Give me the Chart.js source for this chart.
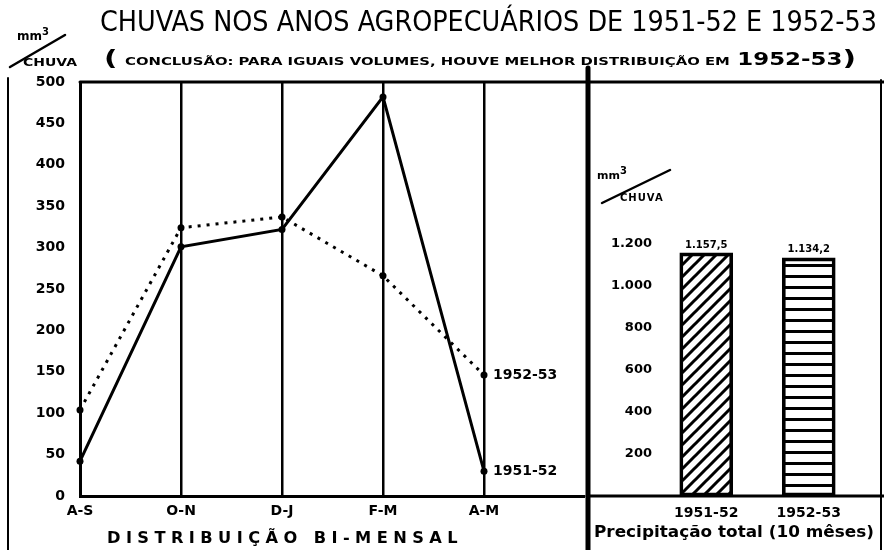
<!DOCTYPE html>
<html>
<head>
<meta charset="utf-8">
<script src="https://cdn.jsdelivr.net/npm/chart.js@4.4.0/dist/chart.umd.min.js"></script>
<style>
  html, body { margin: 0; padding: 0; background: #fff; }
  #page { position: relative; width: 884px; height: 550px; overflow: hidden; font-family: 'DejaVu Sans', sans-serif; color: #000; }
  #page canvas, #page svg, .txt { position: absolute; }
  .txt { white-space: nowrap; line-height: 1; transform-origin: left top; font-weight: bold; }
</style>
</head>
<body>
<div id="page">
  <svg width="884" height="550" style="left:0;top:0" stroke="#000" stroke-linecap="round">
    <line x1="8" y1="78" x2="8" y2="550" stroke-width="2"/>
    <line x1="80" y1="82" x2="884" y2="82" stroke-width="3"/>
    <line x1="588" y1="68" x2="588" y2="550" stroke-width="5"/>
    <line x1="881" y1="80" x2="881" y2="550" stroke-width="2"/>
    <line x1="587" y1="496" x2="884" y2="496" stroke-width="3"/>
    <line x1="10" y1="67" x2="65" y2="35" stroke-width="2.5"/>
    <line x1="602" y1="203" x2="670" y2="170" stroke-width="2.5"/>
  </svg>
  <canvas id="months" width="592" height="550" style="left:0;top:0"></canvas>
  <canvas id="totals" width="297" height="550" style="left:587px;top:0"></canvas>

  <div class="txt" id="title" style="left:100px;top:8px;font-family:'DejaVu Sans Condensed','DejaVu Sans';font-weight:normal;font-size:28px">CHUVAS NOS ANOS AGROPECUÁRIOS DE 1951-52 E 1952-53</div>
  <div class="txt" id="subtitle" style="left:104px;top:47px"><span style="font-size:22px">(</span> <span style="font-size:11px">CONCLUSÃO: PARA IGUAIS VOLUMES, HOUVE MELHOR DISTRIBUIÇÃO EM</span> <span style="font-size:17px">1952-53</span><span style="font-size:22px">)</span></div>

  <div class="txt" style="left:17px;top:27px;font-size:12px">mm<sup style="font-size:10px">3</sup></div>
  <div class="txt" id="lchuva" style="left:23px;top:57px;font-size:11px">CHUVA</div>
  <div class="txt" style="left:597px;top:166px;font-size:11px">mm<sup style="font-size:10px">3</sup></div>
  <div class="txt" style="left:620px;top:193px;font-size:10px;letter-spacing:1px">CHUVA</div>

  <div class="txt" id="xtitle" style="left:107px;top:531px;font-size:15px;letter-spacing:5px">DISTRIBUIÇÃO BI-MENSAL</div>
  <div class="txt" id="btitle" style="left:594px;top:525px;font-size:15px">Precipitação total (10 mêses)</div>
</div>

<script>
// bimonthly periods (last label is the empty right edge of the panel)
const periods = ['A-S', 'O-N', 'D-J', 'F-M', 'A-M', ''];
const series = ['1951-52', '1952-53'];
const rain5152 = [42, 301, 322, 482, 30];
const rain5253 = [104, 324, 337, 266, 146];

// total precipitation (10 months)
const seasons = ['1951-52', '1952-53'];
const totals = [1157.5, 1134.2];

const monthsMax = 500;
const monthsStep = 50;
const totalsMax = 1200;
const totalsStep = 200;

Chart.defaults.font.family = "'DejaVu Sans', sans-serif";
Chart.defaults.color = '#000';

// pt-BR number: 1.157,5
function ptBR(v, dec) {
  const parts = v.toFixed(dec).split('.');
  const int = parts[0].replace(/\B(?=(\d{3})+(?!\d))/g, '.');
  return parts[1] ? int + ',' + parts[1] : int;
}

function hatch(size, draw) {
  const c = document.createElement('canvas');
  c.width = c.height = size;
  const g = c.getContext('2d');
  g.strokeStyle = '#000';
  g.fillStyle = '#000';
  draw(g, size);
  return g.createPattern(c, 'repeat');
}

const diagonal = hatch(12, (g, s) => {
  g.lineWidth = 3;
  g.beginPath();
  g.moveTo(0, s); g.lineTo(s, 0);
  g.moveTo(-s / 2, s / 2); g.lineTo(s / 2, -s / 2);
  g.moveTo(s / 2, s * 1.5); g.lineTo(s * 1.5, s / 2);
  g.stroke();
});
const stripes = hatch(11, (g, s) => g.fillRect(0, 0, s, 3));

const endLabels = {
  id: 'endLabels',
  afterDatasetsDraw(chart) {
    const ctx = chart.ctx;
    ctx.save();
    ctx.font = "bold 14px 'DejaVu Sans'";
    ctx.fillStyle = '#000';
    ctx.textBaseline = 'middle';
    chart.data.datasets.forEach((ds, i) => {
      const pts = chart.getDatasetMeta(i).data;
      const last = pts[pts.length - 1];
      ctx.fillText(ds.label, last.x + 9, last.y);
    });
    ctx.restore();
  }
};

const barValues = {
  id: 'barValues',
  afterDatasetsDraw(chart) {
    const ctx = chart.ctx;
    ctx.save();
    ctx.font = "bold 10px 'DejaVu Sans'";
    ctx.fillStyle = '#000';
    ctx.textAlign = 'center';
    ctx.textBaseline = 'bottom';
    chart.getDatasetMeta(0).data.forEach((bar, i) => {
      ctx.fillText(ptBR(chart.data.datasets[0].data[i], 1), bar.x, bar.y - 3);
    });
    ctx.restore();
  }
};

new Chart(document.getElementById('months'), {
  type: 'line',
  data: {
    labels: periods,
    datasets: [
      {
        label: series[0],
        data: rain5152,
        borderColor: '#000',
        borderWidth: 3,
        pointRadius: 3.5,
        pointBackgroundColor: '#000',
        pointBorderWidth: 0,
        tension: 0,
        clip: false,
      },
      {
        label: series[1],
        data: rain5253,
        borderColor: '#000',
        borderWidth: 3,
        borderDash: [3, 6],
        pointRadius: 3.5,
        pointBackgroundColor: '#000',
        pointBorderWidth: 0,
        tension: 0,
        clip: false,
      },
    ],
  },
  options: {
    responsive: false,
    animation: false,
    layout: {padding: {top: 82, right: 5, bottom: 0, left: 0}},
    plugins: {legend: {display: false}, tooltip: {enabled: false}, title: {display: false}},
    scales: {
      x: {
        offset: false,
        afterFit: (s) => { s.height = 54; },
        grid: {
          color: '#000',
          lineWidth: (c) => (c.index === 0 || c.index === periods.length - 1 ? 0 : 2.5),
          drawTicks: false,
        },
        border: {display: true, color: '#000', width: 3},
        ticks: {padding: 7, font: {size: 14, weight: 'bold'}, maxRotation: 0, autoSkip: false},
      },
      y: {
        min: 0,
        max: monthsMax,
        afterFit: (s) => { s.width = 80; },
        grid: {display: false, drawTicks: false},
        border: {display: true, color: '#000', width: 3},
        ticks: {stepSize: monthsStep, padding: 15, font: {size: 14, weight: 'bold'}},
      },
    },
  },
  plugins: [endLabels],
});

new Chart(document.getElementById('totals'), {
  type: 'bar',
  data: {
    labels: seasons,
    datasets: [
      {
        data: totals,
        backgroundColor: [diagonal, stripes],
        borderColor: '#000',
        borderWidth: 3,
        borderSkipped: false,
        barThickness: 53,
      },
    ],
  },
  options: {
    responsive: false,
    animation: false,
    layout: {padding: {top: 244, right: 24, bottom: 0, left: 0}},
    plugins: {legend: {display: false}, tooltip: {enabled: false}, title: {display: false}},
    scales: {
      x: {
        afterFit: (s) => { s.height = 54; },
        grid: {display: false, drawTicks: false},
        border: {display: false},
        ticks: {padding: 9, font: {size: 14, weight: 'bold'}},
      },
      y: {
        min: 0,
        max: totalsMax,
        afterFit: (s) => { s.width = 68; },
        grid: {display: false, drawTicks: false},
        border: {display: false},
        ticks: {
          stepSize: totalsStep,
          padding: 3,
          font: {size: 13, weight: 'bold'},
          callback: (v) => (v === 0 ? '' : ptBR(v, 0)),
        },
      },
    },
  },
  plugins: [barValues],
});

// stretch the hand-lettered texts to the widths they take in the drawing
function fit(id, w) {
  const el = document.getElementById(id);
  const r = el.getBoundingClientRect().width;
  el.style.transform = 'scaleX(' + (w / r) + ')';
}
fit('title', 777);
fit('subtitle', 752);
fit('xtitle', 356);
fit('btitle', 280);
fit('lchuva', 54);
</script>
</body>
</html>
